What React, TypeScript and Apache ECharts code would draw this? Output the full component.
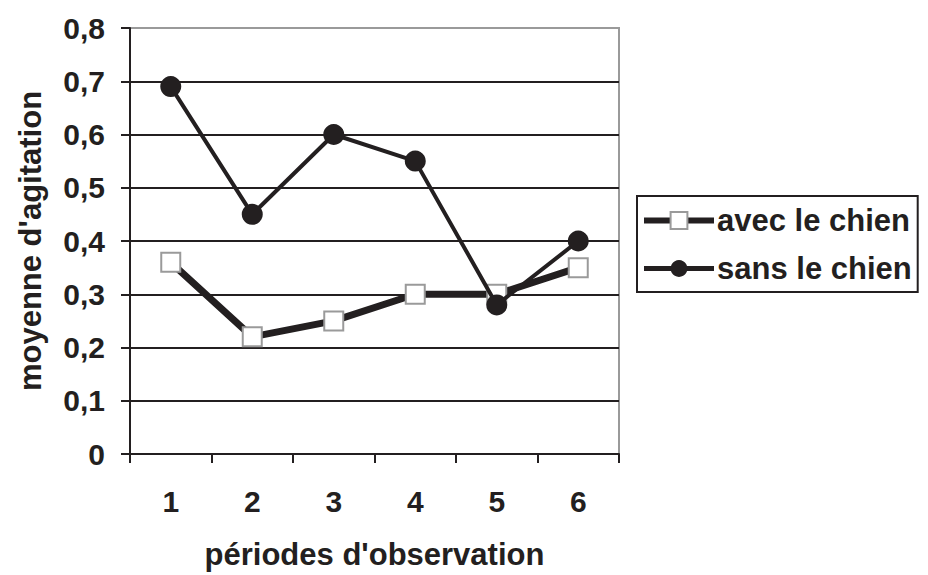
import React, { useEffect, useRef } from "react";
import * as echarts from "echarts";

const categories = ["1", "2", "3", "4", "5", "6"];
const avecLeChien = [0.36, 0.22, 0.25, 0.3, 0.3, 0.35];
const sansLeChien = [0.69, 0.45, 0.6, 0.55, 0.28, 0.4];
const seriesNames = ["avec le chien", "sans le chien"];

const FONT = "'Liberation Sans', Arial, sans-serif";
const INK = "#231f20";

export default function App() {
  const ref = useRef<HTMLDivElement>(null);
  useEffect(() => {
    if (!ref.current) return;
    const chart = echarts.init(ref.current, null, { renderer: "svg" });
    chart.setOption({
      animation: false,
      backgroundColor: "#fff",
      textStyle: { fontFamily: FONT },
      grid: {
        left: 130,
        right: 309,
        top: 28,
        bottom: 120,
        show: true,
        borderColor: "#9a9a9a",
        borderWidth: 2,
      },
      legend: {
        left: 637,
        top: 196,
        orient: "vertical",
        backgroundColor: "#fff",
        borderColor: INK,
        borderWidth: 2,
        padding: [9, 6, 8, 4],
        itemGap: 17,
        itemWidth: 70,
        itemHeight: 21,
        textStyle: { fontFamily: FONT, fontWeight: "bold", fontSize: 31, color: INK, padding: [0, 0, 0, -2] },
        data: [
          { name: seriesNames[0], lineStyle: { width: 6, color: INK } },
          { name: seriesNames[1], lineStyle: { width: 5, color: INK } },
        ],
      },
      xAxis: {
        type: "category",
        data: categories,
        boundaryGap: true,
        name: "périodes d'observation",
        nameLocation: "middle",
        nameGap: 85,
        nameTextStyle: { fontFamily: FONT, fontWeight: "bold", fontSize: 31, color: INK },
        axisLine: { lineStyle: { color: INK, width: 2 } },
        axisTick: { show: true, length: 9, lineStyle: { color: INK, width: 2 } },
        axisLabel: { margin: 32, fontFamily: FONT, fontWeight: "bold", fontSize: 30, color: INK },
        splitLine: { show: false },
      },
      yAxis: {
        type: "value",
        min: 0,
        max: 0.8,
        interval: 0.1,
        name: "moyenne d'agitation",
        nameLocation: "middle",
        nameGap: 84,
        nameTextStyle: { fontFamily: FONT, fontWeight: "bold", fontSize: 31, color: INK },
        axisLine: { show: true, lineStyle: { color: INK, width: 2 } },
        axisTick: { show: true, length: 9, lineStyle: { color: INK, width: 2 } },
        axisLabel: {
          margin: 25,
          fontFamily: FONT,
          fontWeight: "bold",
          fontSize: 30,
          color: INK,
          formatter: (v: number) => (v === 0 ? "0" : v.toFixed(1).replace(".", ",")),
        },
        splitLine: {
          show: true,
          lineStyle: {
            color: [INK, INK, INK, INK, INK, INK, INK, INK, "#9a9a9a"],
            width: 2,
          },
        },
      },
      series: [
        {
          name: seriesNames[0],
          type: "line",
          data: avecLeChien,
          symbol: "rect",
          symbolSize: 19,
          lineStyle: { color: INK, width: 7 },
          itemStyle: { color: "#fff", borderColor: "#9a9a9a", borderWidth: 2 },
          z: 2,
        },
        {
          name: seriesNames[1],
          type: "line",
          data: sansLeChien,
          symbol: "circle",
          symbolSize: 21,
          lineStyle: { color: INK, width: 4 },
          itemStyle: { color: INK, borderColor: INK, borderWidth: 0 },
          z: 3,
        },
      ],
    });
    return () => chart.dispose();
  }, []);
  return <div ref={ref} style={{ width: 928, height: 575, position: "absolute", left: 0, top: 0 }} />;
}
